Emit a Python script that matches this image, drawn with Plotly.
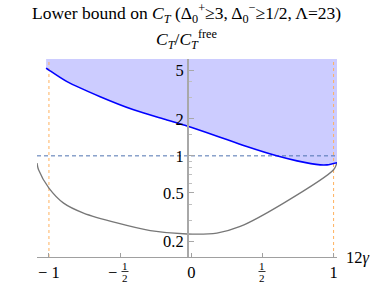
import plotly.graph_objects as go
import numpy as np

# ---- data ----
gamma_bound = [-1.02, -1.0, -0.873, -0.64, -0.405, -0.171, -0.03, 0.157, 0.39, 0.6, 0.743, 0.906, 0.954, 1.024]
ct_bound = [5.19, 5.0, 4.02, 3.03, 2.37, 1.96, 1.75, 1.48, 1.19, 1.0, 0.91, 0.845, 0.845, 0.88]

gamma_gray = [-1.084, -1.073, -1.0, -0.897, -0.757, -0.522, -0.288, -0.03, 0.18, 0.344, 0.649, 1.0, 1.024]
ct_gray = [0.873, 0.77, 0.546, 0.412, 0.342, 0.284, 0.246, 0.231, 0.235, 0.266, 0.412, 0.77, 0.88]

free_level = [1.0]
gamma_limits = [-1.0, 1.0]

ytick_vals = [0.2, 0.5, 1, 2, 5]
ytick_text = ["0.2", "0.5", "1", "2", "5"]
yminor_vals = [0.3, 0.4, 0.6, 0.7, 0.8, 0.9, 1.5, 3, 4]
xtick_vals = [-1, -0.5, 0, 0.5, 1]
xtick_text = ["\u2212 1", "", "0", "", "1"]

x_range = [-1.084, 1.024]
y_range = [0.15, 6.15]

FONT = "Liberation Serif"
TICK = 16.5

fig = go.Figure()

# shaded allowed region (above the bound)
top = y_range[1] * 1.05
fig.add_trace(go.Scatter(
    x=gamma_bound + gamma_bound[::-1],
    y=ct_bound + [top] * len(gamma_bound),
    fill="toself", fillcolor="rgb(204,204,255)", line=dict(width=0),
    mode="lines", hoverinfo="skip"))

# dashed reference lines
fig.add_trace(go.Scatter(x=x_range, y=free_level * 2, mode="lines",
                         line=dict(color="#4f73b0", width=1, dash="4px,3px")))
for g in gamma_limits:
    fig.add_trace(go.Scatter(x=[g, g], y=[y_range[0], top], mode="lines",
                             line=dict(color="#ffb15e", width=1, dash="3px,3px")))

fig.add_trace(go.Scatter(x=gamma_gray, y=ct_gray, mode="lines",
                         line=dict(color="#777777", width=1.3, shape="spline", smoothing=0.8)))
fig.add_trace(go.Scatter(x=gamma_bound, y=ct_bound, mode="lines",
                         line=dict(color="#0000ff", width=1.6, shape="spline", smoothing=0.8)))

L, R, T, B = 37, 37, 59, 38
W, H = 374, 295
pw, ph = W - L - R, H - T - B

def px_x(px):
    return (px - L) / pw

def px_y(py):
    return (H - B - py) / ph

annotations = [
    dict(text="Lower bound on <i>C</i><sub><i>T</i></sub> (\u0394<sub>0</sub><sup>+</sup>\u22653, "
              "\u0394<sub>0</sub><sup>\u2212</sup>\u22651/2, \u039b=23)",
         x=px_x(186.5), y=px_y(13), font=dict(size=17.5)),
    dict(text="<i>C</i><sub><i>T</i></sub>/<i>C</i><sub><i>T</i></sub><sup>free</sup>",
         x=px_x(187), y=px_y(40), font=dict(size=17.5)),
    dict(text="12<i>\u03b3</i>", x=px_x(344), y=px_y(257), xanchor="left", font=dict(size=TICK)),
    # fractions -1/2 and 1/2
    dict(text="\u2212", x=px_x(112.5), y=px_y(272), font=dict(size=TICK)),
    dict(text="1", x=px_x(125), y=px_y(265.5), font=dict(size=11)),
    dict(text="2", x=px_x(125), y=px_y(277.5), font=dict(size=11)),
    dict(text="1", x=px_x(262), y=px_y(265.5), font=dict(size=11)),
    dict(text="2", x=px_x(262), y=px_y(277.5), font=dict(size=11)),
]
for a in annotations:
    a.setdefault("xanchor", "center")
    a.update(xref="paper", yref="paper", yanchor="middle", showarrow=False)
    a["font"].update(family=FONT, color="black")

shapes = [
    dict(type="line", xref="paper", yref="paper", x0=px_x(121.5), x1=px_x(128.5),
         y0=px_y(271.5), y1=px_y(271.5), line=dict(color="black", width=0.8)),
    dict(type="line", xref="paper", yref="paper", x0=px_x(258.5), x1=px_x(265.5),
         y0=px_y(271.5), y1=px_y(271.5), line=dict(color="black", width=0.8)),
]

fig.update_layout(
    width=W, height=H, margin=dict(l=L, r=R, t=T, b=B, autoexpand=False),
    paper_bgcolor="white", plot_bgcolor="white", showlegend=False,
    hovermode=False, annotations=annotations, shapes=shapes,
    font=dict(family=FONT, size=TICK, color="black"),
    xaxis=dict(range=x_range, showgrid=False, zeroline=False, showline=True,
               automargin=False,
               linecolor="#a0a0a0", linewidth=1.2, ticks="inside", ticklen=4,
               tickcolor="#a0a0a0", tickvals=xtick_vals, ticktext=xtick_text,
               tickfont=dict(family=FONT, size=TICK, color="black")),
    yaxis=dict(type="log", range=[np.log10(y_range[0]), np.log10(y_range[1])],
               automargin=False,
               anchor="free", position=0.5, showgrid=False, zeroline=False,
               showline=True, linecolor="#a8a8a8", linewidth=1.6, ticks="inside",
               ticklen=5, tickcolor="#a8a8a8", tickvals=ytick_vals, ticktext=ytick_text,
               tickfont=dict(family=FONT, size=TICK, color="black"),
               minor=dict(tickvals=yminor_vals, ticks="inside", ticklen=3,
                          tickcolor="#c0c0c0", showgrid=False)),
)

fig.write_html("out.html", config={"displayModeBar": False, "staticPlot": True},
               post_script="document.body.style.margin='0';")
